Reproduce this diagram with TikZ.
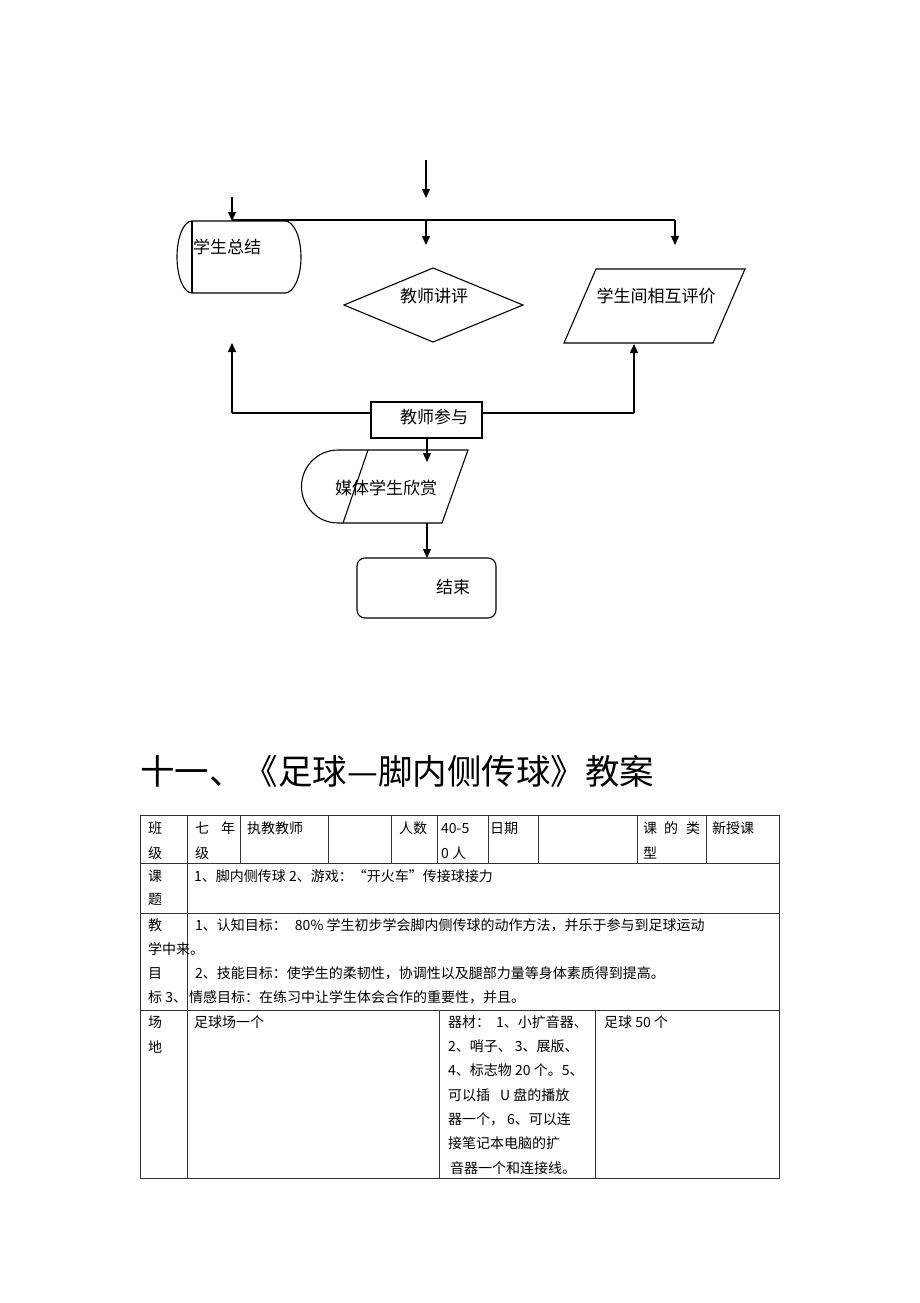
\documentclass[tikz,border=0pt]{standalone}
\usepackage{fontspec}
\setmainfont{Noto Sans CJK SC}
\usetikzlibrary{arrows.meta}
\begin{document}
\begin{tikzpicture}[x=1pt,y=-1pt,
  fl/.style={draw=black, line width=1.1pt},
  arr/.style={draw=black, line width=1.2pt, -{Triangle[length=9pt,width=8pt]}},
  ftxt/.style={font=\fontsize{17}{17}\selectfont, inner sep=0, anchor=base},
  ttxt/.style={font=\fontsize{14}{14}\selectfont, inner sep=0, anchor=base west},
  gridln/.style={draw=black!80, line width=1pt}]
\useasboundingbox (0,0) rectangle (920,1303);
\fill[white] (0,0) rectangle (920,1303);

% ---------- flowchart ----------
% coordinates
\coordinate (topsrc) at (426,160);
\coordinate (topdst) at (426,198);
\coordinate (lsrc) at (232,197);
\coordinate (hl) at (232,220);
\coordinate (hm) at (426,220);
\coordinate (hr) at (675,220);
\coordinate (dmin) at (426,245);
\coordinate (pxin) at (675,245);

% 学生总结
\draw[fl] (192,221) -- (285,221) .. controls (293.8,221) and (301,237.1) .. (301,257)
  .. controls (301,276.9) and (293.8,293) .. (285,293) -- (192,293)
  .. controls (183.7,293) and (177,276.9) .. (177,257)
  .. controls (177,237.1) and (183.7,221) .. (192,221);
\draw[fl] (192,221) -- (192,293);
\node[ftxt, anchor=base west] (zj) at (193,253.5) {学生总结};
\coordinate (zjtop) at (232,221);
\coordinate (zjin) at (232,343);

% 教师讲评
\draw[fl] (344,305) -- (433,268) -- (523,305) -- (433,342) -- cycle;
\node[ftxt] (jp) at (434,302.5) {教师讲评};

% 学生间相互评价
\draw[fl] (596,269) -- (745,269) -- (713,343) -- (564,343) -- cycle;
\node[ftxt] (hp) at (656,302.5) {学生间相互评价};
\coordinate (hpin) at (634,344);

% 教师参与
\draw[fl] (371,402) rectangle (482,438);
\draw[line width=2pt] (371,402) -- (482,402);
\node[ftxt] (cy) at (434,423.5) {教师参与};
\coordinate (cyl) at (371,413);
\coordinate (cyr) at (482,413);
\coordinate (ll) at (232,413);
\coordinate (rr) at (634,413);
\coordinate (cybot) at (427,438);
\coordinate (mtin) at (427,462);

% 媒体学生欣赏
\draw[fl] (338,450) -- (468,450) -- (442,523) -- (338,523)
  .. controls (317.8,523) and (301.5,506.7) .. (301.5,486.5)
  .. controls (301.5,466.3) and (317.8,450) .. (338,450);
\draw[fl] (368,450) -- (343,523);
\node[ftxt] (mt) at (386,494.5) {媒体学生欣赏};
\coordinate (mtbot) at (427,523);
\coordinate (jsin) at (427,558);

% 结束
\draw[fl, rounded corners=8pt] (357,558) rectangle (496,618);
\node[ftxt] (js) at (453,593.5) {结束};

% connectors
\draw[arr] (topsrc) -- (topdst);
\draw[arr] (lsrc) -- (zjtop);
\draw[line width=2.2pt] (hl) -- (hr);
\draw[arr] (hm) -- (dmin);
\draw[arr] (hr) -- (pxin);
\draw[fl] (ll) -- (cyl);
\draw[fl] (cyr) -- (rr);
\draw[arr] (ll) -- (zjin);
\draw[arr] (rr) -- (hpin);
\draw[arr] (cybot) -- (mtin);
\draw[arr] (mtbot) -- (jsin);

% ---------- title ----------
\node[font=\fontsize{34.5}{34.5}\selectfont, inner sep=0, anchor=base west] (title) at (140,784) {十一、《足球—脚内侧传球》教案};

% ---------- table ----------
\draw[gridln] (140,815) rectangle (779,1178);
\draw[gridln] (140,863) -- (779,863);
\draw[gridln] (140,913) -- (779,913);
\draw[gridln] (140,1010) -- (779,1010);
\draw[gridln] (187.5,815) -- (187.5,1178);
\foreach \cx in {240.5,328,391,437.5,488.5,538,637,706.5}
  \draw[gridln] (\cx,815) -- (\cx,863);
\draw[gridln] (439,1010) -- (439,1178);
\draw[gridln] (595,1010) -- (595,1178);

% row 1
\node[ttxt] (a1) at (148,833.3) {班};
\node[ttxt] (a2) at (148,858.3) {级};
\node[ttxt] (b1) at (195,833.3) {七};
\node[ttxt] (b2) at (221,833.3) {年};
\node[ttxt] (b3) at (195,858.3) {级};
\node[ttxt] (c1) at (247,833.3) {执教教师};
\node[ttxt] (d1) at (399,833.3) {人数};
\node[ttxt] (e1) at (441,833.3) {40-5};
\node[ttxt] (e2) at (441,858.3) {0 人};
\node[ttxt] (f1) at (490,833.3) {日期};
\node[ttxt] (g1) at (643,833.3) {课};
\node[ttxt] (g2) at (664,833.3) {的};
\node[ttxt] (g3) at (686,833.3) {类};
\node[ttxt] (g4) at (643,858.3) {型};
\node[ttxt] (h1) at (712,833.3) {新授课};

% row 2
\node[ttxt] (k1) at (148,881.3) {课};
\node[ttxt] (k2) at (148,904.3) {题};
\node[ttxt] (k3) at (194,881.3) {1、脚内侧传球 2、游戏：“开火车”传接球接力};

% row 3
\node[ttxt] (m1) at (148,930.3) {教};
\node[ttxt] (m2) at (195,930.3) {1、认知目标：\hspace{8pt}80\% 学生初步学会脚内侧传球的动作方法，并乐于参与到足球运动};
\node[ttxt] (m3) at (148,954.3) {学中来。};
\node[ttxt] (m4) at (148,978.3) {目};
\node[ttxt] (m5) at (195,978.3) {2、技能目标：使学生的柔韧性，协调性以及腿部力量等身体素质得到提高。};
\node[ttxt] (m6) at (148,1002.3) {标 3、\hspace{2pt}情感目标：在练习中让学生体会合作的重要性，并且。};

% row 4
\node[ttxt] (n1) at (148,1027.3) {场};
\node[ttxt] (n2) at (148,1052.3) {地};
\node[ttxt] (n3) at (194,1027.3) {足球场一个};
\node[ttxt] (p1) at (448,1027.3) {器材：\hspace{6pt}1、小扩音器、};
\node[ttxt] (p2) at (448,1051.6) {2、哨子、\hspace{3pt}3、展版、};
\node[ttxt] (p3) at (448,1075.9) {4、标志物 20 个。5、};
\node[ttxt] (p4) at (448,1100.2) {可以插\hspace{10pt}U 盘的播放};
\node[ttxt] (p5) at (448,1124.5) {器一个，\hspace{3pt}6、可以连};
\node[ttxt] (p6) at (448,1148.8) {接笔记本电脑的扩};
\node[ttxt] (p7) at (450,1173.1) {音器一个和连接线。};
\node[ttxt] (q1) at (604,1027.3) {足球 50 个};
\end{tikzpicture}
\end{document}
